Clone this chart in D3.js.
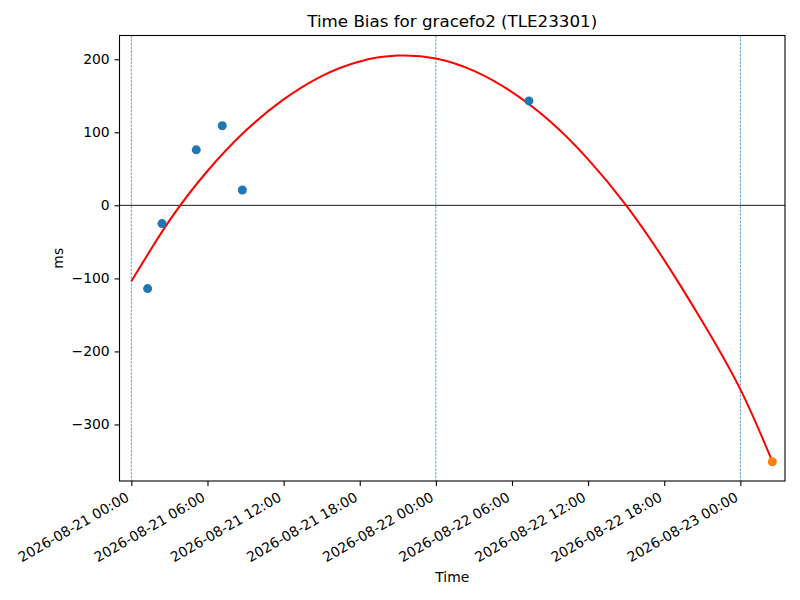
<!DOCTYPE html>
<html lang="en">
<head>
  <meta charset="UTF-8">
  <script src="https://d3js.org/d3.v7.min.js"></script>
  <style>
    body {
      margin: 0;
      background: #fff;
      overflow: hidden;
    }
    text {
      font-family: "DejaVu Sans", sans-serif;
      fill: #000;
    }
  </style>
</head>
<body>

<svg width="800" height="600"></svg>

<script>
  // observed biases (ms)
  const obsTimes = ['2026-08-21T01:17Z', '2026-08-21T02:25Z', '2026-08-21T05:07Z',
                    '2026-08-21T07:10Z', '2026-08-21T08:45Z', '2026-08-22T07:20Z'];
  const obsValues = [-114, -25, 76, 109, 21, 143];

  // the last (orange) point
  const lastTime = '2026-08-23T02:31Z';
  const lastValue = -351;

  // fitted curve
  const fitTimes = ['2026-08-21T00:00Z', '2026-08-21T03:00Z', '2026-08-21T06:00Z', '2026-08-21T09:00Z',
                    '2026-08-21T12:00Z', '2026-08-21T15:00Z', '2026-08-21T18:00Z', '2026-08-21T21:00Z',
                    '2026-08-22T00:00Z', '2026-08-22T03:00Z', '2026-08-22T06:00Z', '2026-08-22T09:00Z',
                    '2026-08-22T12:00Z', '2026-08-22T15:00Z', '2026-08-22T18:00Z', '2026-08-22T21:00Z',
                    '2026-08-23T00:00Z', '2026-08-23T02:30Z'];
  const fitValues = [-104, -21, 47, 102, 145, 177, 197, 205, 201, 184, 155, 115, 63, 0, -75, -159, -252, -350];

  // day boundaries
  const dayLines = ['2026-08-21T00:00Z', '2026-08-22T00:00Z', '2026-08-23T00:00Z'];

  const yTicks = [-300, -200, -100, 0, 100, 200];
  const xDomain = ['2026-08-20T23:04Z', '2026-08-23T03:31Z'];
  const yDomain = [-377.4, 232.5];

  const parse = s => new Date(s);

  const mLeft = 119.5, mRight = 785, mTop = 35.5, mBottom = 481;
  const svg = d3.select('svg');

  const x = d3.scaleUtc().domain(xDomain.map(parse)).range([mLeft, mRight]);
  const y = d3.scaleLinear().domain(yDomain).range([mBottom, mTop]);

  // dashed day lines
  svg.selectAll('line.day')
    .data(dayLines)
    .enter().append('line')
    .attr('class', 'day')
    .attr('x1', d => x(parse(d))).attr('x2', d => x(parse(d)))
    .attr('y1', mTop).attr('y2', mBottom)
    .attr('stroke', '#1f77b4')
    .attr('stroke-width', 0.7)
    .attr('stroke-dasharray', '2.6,1.1');

  // zero line
  svg.append('line')
    .attr('x1', mLeft).attr('x2', mRight)
    .attr('y1', y(0)).attr('y2', y(0))
    .attr('stroke', '#000')
    .attr('stroke-width', 0.9);

  // fit curve
  const fit = fitTimes.map((t, i) => [parse(t), fitValues[i]]);
  svg.append('path')
    .datum(fit)
    .attr('fill', 'none')
    .attr('stroke', 'red')
    .attr('stroke-width', 2)
    .attr('d', d3.line().x(d => x(d[0])).y(d => y(d[1])).curve(d3.curveNatural));

  // points
  svg.selectAll('circle.obs')
    .data(obsTimes.map((t, i) => [parse(t), obsValues[i]]))
    .enter().append('circle')
    .attr('class', 'obs')
    .attr('cx', d => x(d[0]))
    .attr('cy', d => y(d[1]))
    .attr('r', 4.5)
    .attr('fill', '#1f77b4');

  svg.append('circle')
    .attr('cx', x(parse(lastTime)))
    .attr('cy', y(lastValue))
    .attr('r', 4.5)
    .attr('fill', '#ff7f0e');

  // frame
  svg.append('rect')
    .attr('x', mLeft).attr('y', mTop)
    .attr('width', mRight - mLeft).attr('height', mBottom - mTop)
    .attr('fill', 'none')
    .attr('stroke', '#000')
    .attr('stroke-width', 1.1);

  // x axis
  const xTicks = d3.utcHour.every(6).range(parse('2026-08-21T00:00Z'), parse('2026-08-23T00:01Z'));
  const fmt = d3.utcFormat('%Y-%m-%d %H:%M');
  const xAxis = svg.append('g')
    .attr('transform', `translate(0,${mBottom})`)
    .call(d3.axisBottom(x).tickValues(xTicks).tickFormat(fmt).tickSize(4.9).tickSizeOuter(0));
  xAxis.select('.domain').remove();
  xAxis.selectAll('.tick line').attr('stroke', '#000').attr('stroke-width', 1.1);
  xAxis.selectAll('.tick text')
    .attr('font-size', 13.9)
    .attr('font-family', 'DejaVu Sans')
    .attr('text-anchor', 'end')
    .attr('y', 0).attr('dy', 0)
    .attr('transform', 'translate(-1.7,19) rotate(-30)');

  // y axis
  const yAxis = svg.append('g')
    .attr('transform', `translate(${mLeft},0)`)
    .call(d3.axisLeft(y).tickValues(yTicks).tickFormat(d => d < 0 ? '\u2212' + Math.abs(d) : d).tickSize(4.9).tickPadding(4.9));
  yAxis.select('.domain').remove();
  yAxis.selectAll('.tick line').attr('stroke', '#000').attr('stroke-width', 1.1);
  yAxis.selectAll('.tick text')
    .attr('font-size', 13.9)
    .attr('font-family', 'DejaVu Sans');

  // labels
  svg.append('text')
    .attr('x', (mLeft + mRight) / 2).attr('y', 27)
    .attr('text-anchor', 'middle')
    .attr('font-size', 16.7)
    .text('Time Bias for gracefo2 (TLE23301)');

  svg.append('text')
    .attr('x', (mLeft + mRight) / 2).attr('y', 582)
    .attr('text-anchor', 'middle')
    .attr('font-size', 13.9)
    .text('Time');

  svg.append('text')
    .attr('transform', `translate(63,${(mTop + mBottom) / 2}) rotate(-90)`)
    .attr('text-anchor', 'middle')
    .attr('font-size', 13.9)
    .text('ms');
</script>

</body>
</html>
